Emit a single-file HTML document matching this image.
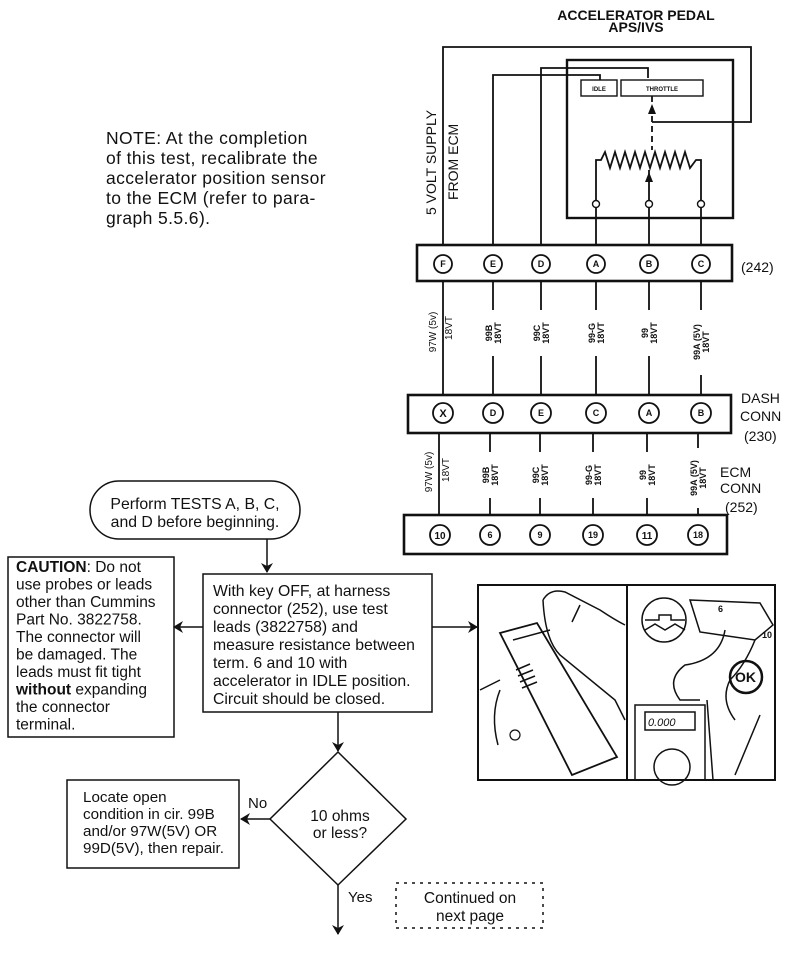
<!DOCTYPE html>
<html><head><meta charset="utf-8"><style>
html,body{margin:0;padding:0;background:#fff}
svg{display:block}
text{font-family:"Liberation Sans",sans-serif;fill:#111}
</style></head><body>
<svg width="800" height="954" viewBox="0 0 800 954" xmlns="http://www.w3.org/2000/svg">
<defs>
<marker id="ah" markerWidth="10" markerHeight="12" refX="9" refY="6" orient="auto" markerUnits="userSpaceOnUse">
<path d="M0,0 L10,6 L0,12 L3,6 Z" fill="#111"/></marker>
</defs>
<g stroke="#111" fill="none" stroke-width="1.8">
<rect x="567" y="60" width="166" height="158" stroke-width="2.4"/>
<polyline points="443,245 443,47 751,47 751,122 652,122"/>
<polyline points="541,245 541,68 648,68 648,78"/>
<polyline points="493,245 493,75 600,75 600,80"/>
<rect x="581" y="80" width="36" height="16" stroke-width="1.4"/>
<rect x="621" y="80" width="82" height="16" stroke-width="1.4"/>
<line x1="652" y1="96" x2="652" y2="150" stroke-dasharray="6,4"/>
<polyline points="596,200 596,160 601,160 605,152 610,168 615,152 620,168 625,152 630,168 635,152 640,168 645,152 650,168 655,152 660,168 665,152 670,168 675,152 680,168 685,152 690,168 696,160 701,160 701,200"/>
<line x1="649" y1="200" x2="649" y2="170"/>
<circle cx="596" cy="204" r="3.5" stroke-width="1.4"/>
<circle cx="649" cy="204" r="3.5" stroke-width="1.4"/>
<circle cx="701" cy="204" r="3.5" stroke-width="1.4"/>
<line x1="596" y1="207" x2="596" y2="245"/>
<line x1="649" y1="207" x2="649" y2="245"/>
<line x1="701" y1="207" x2="701" y2="245"/>
<rect x="417" y="245" width="315" height="36" stroke-width="2.6"/>
<rect x="408" y="395" width="323" height="38" stroke-width="2.6"/>
<rect x="404" y="515" width="323" height="39" stroke-width="2.6"/>
<line x1="443" y1="281" x2="443" y2="395"/>
<line x1="493" y1="281" x2="493" y2="310"/><line x1="493" y1="356" x2="493" y2="395"/>
<line x1="541" y1="281" x2="541" y2="310"/><line x1="541" y1="356" x2="541" y2="395"/>
<line x1="596" y1="281" x2="596" y2="310"/><line x1="596" y1="356" x2="596" y2="395"/>
<line x1="649" y1="281" x2="649" y2="310"/><line x1="649" y1="356" x2="649" y2="395"/>
<line x1="701" y1="281" x2="701" y2="310"/><line x1="701" y1="375" x2="701" y2="395"/>
<line x1="439" y1="433" x2="439" y2="515"/>
<line x1="490" y1="433" x2="490" y2="452"/><line x1="490" y1="498" x2="490" y2="515"/>
<line x1="540" y1="433" x2="540" y2="452"/><line x1="540" y1="498" x2="540" y2="515"/>
<line x1="593" y1="433" x2="593" y2="452"/><line x1="593" y1="498" x2="593" y2="515"/>
<line x1="647" y1="433" x2="647" y2="452"/><line x1="647" y1="498" x2="647" y2="515"/>
<line x1="698" y1="433" x2="698" y2="448"/><line x1="698" y1="508" x2="698" y2="515"/>
</g>
<g stroke="#111" fill="#fff" stroke-width="1.8">
<circle cx="443" cy="264" r="9"/><circle cx="493" cy="264" r="9"/><circle cx="541" cy="264" r="9"/><circle cx="596" cy="264" r="9"/><circle cx="649" cy="264" r="9"/><circle cx="701" cy="264" r="9"/>
<circle cx="443" cy="413" r="10"/><circle cx="493" cy="413" r="10"/><circle cx="541" cy="413" r="10"/><circle cx="596" cy="413" r="10"/><circle cx="649" cy="413" r="10"/><circle cx="701" cy="413" r="10"/>
<circle cx="440" cy="535" r="10"/><circle cx="490" cy="535" r="10"/><circle cx="540" cy="535" r="10"/><circle cx="593" cy="535" r="10"/><circle cx="647" cy="535" r="10"/><circle cx="698" cy="535" r="10"/>
</g>
<g font-size="9" font-weight="bold" text-anchor="middle">
<text x="443" y="267">F</text><text x="493" y="267">E</text><text x="541" y="267">D</text><text x="596" y="267">A</text><text x="649" y="267">B</text><text x="701" y="267">C</text>
<text x="443" y="417" font-size="11">X</text><text x="493" y="416">D</text><text x="541" y="416">E</text><text x="596" y="416">C</text><text x="649" y="416">A</text><text x="701" y="416">B</text>
<text x="440" y="539" font-size="10">10</text><text x="490" y="538">6</text><text x="540" y="538">9</text><text x="593" y="538">19</text><text x="647" y="539" font-size="10">11</text><text x="698" y="538">18</text>
</g>
<g font-size="9" font-weight="bold" text-anchor="middle">
<text transform="translate(436,332) rotate(-90)" font-weight="normal" font-size="10">97W (5v)</text>
<text transform="translate(452,328) rotate(-90)" font-weight="normal" font-size="10">18VT</text>
<text transform="translate(432,472) rotate(-90)" font-weight="normal" font-size="10">97W (5v)</text>
<text transform="translate(449,470) rotate(-90)" font-weight="normal" font-size="10">18VT</text>
<text transform="translate(492,333) rotate(-90)">99B</text><text transform="translate(501,333) rotate(-90)">18VT</text>
<text transform="translate(540,333) rotate(-90)">99C</text><text transform="translate(549,333) rotate(-90)">18VT</text>
<text transform="translate(595,333) rotate(-90)">99-G</text><text transform="translate(604,333) rotate(-90)">18VT</text>
<text transform="translate(648,333) rotate(-90)">99</text><text transform="translate(657,333) rotate(-90)">18VT</text>
<text transform="translate(700,342) rotate(-90)">99A (5V)</text><text transform="translate(709,342) rotate(-90)">18VT</text>
<text transform="translate(489,475) rotate(-90)">99B</text><text transform="translate(498,475) rotate(-90)">18VT</text>
<text transform="translate(539,475) rotate(-90)">99C</text><text transform="translate(548,475) rotate(-90)">18VT</text>
<text transform="translate(592,475) rotate(-90)">99-G</text><text transform="translate(601,475) rotate(-90)">18VT</text>
<text transform="translate(646,475) rotate(-90)">99</text><text transform="translate(655,475) rotate(-90)">18VT</text>
<text transform="translate(697,478) rotate(-90)">99A (5V)</text><text transform="translate(706,478) rotate(-90)">18VT</text>
</g>
<g font-size="6" font-weight="bold" text-anchor="middle"><text x="599" y="91">IDLE</text><text x="662" y="91">THROTTLE</text></g>
<path d="M652,104 l-4,10 h8 z M649,172 l-4,10 h8 z" fill="#111"/>
<g font-size="14" font-weight="bold" text-anchor="middle">
<text x="636" y="20">ACCELERATOR PEDAL</text>
<text x="636" y="32">APS/IVS</text>
</g>
<text transform="translate(436,215) rotate(-90)" font-size="14">5 VOLT SUPPLY</text>
<text transform="translate(458,200) rotate(-90)" font-size="14">FROM ECM</text>
<g font-size="14"><text x="741" y="272">(242)</text>
<text x="741" y="403">DASH</text><text x="740" y="421">CONN</text><text x="744" y="441">(230)</text>
<text x="720" y="477">ECM</text><text x="720" y="493">CONN</text><text x="725" y="512">(252)</text></g>
<g font-size="17.5" letter-spacing="0.4"><text x="106" y="144">NOTE: At the completion</text><text x="106" y="164">of this test, recalibrate the</text><text x="106" y="184">accelerator position sensor</text><text x="106" y="204">to the ECM (refer to para-</text><text x="106" y="224">graph 5.5.6).</text></g>
<g stroke="#111" fill="none" stroke-width="1.5">
<rect x="90" y="481" width="210" height="58" rx="29"/>
<line x1="267" y1="539" x2="267" y2="572" marker-end="url(#ah)"/>
<rect x="8" y="557" width="166" height="180"/>
<rect x="203" y="574" width="229" height="138"/>
<line x1="203" y1="627" x2="174" y2="627" marker-end="url(#ah)"/>
<line x1="432" y1="627" x2="477" y2="627" marker-end="url(#ah)"/>
<line x1="338" y1="712" x2="338" y2="751" marker-end="url(#ah)"/>
<polygon points="338,752 406,819 338,885 270,819"/>
<rect x="67" y="780" width="172" height="88"/>
<line x1="270" y1="819" x2="241" y2="819" marker-end="url(#ah)"/>
<line x1="338" y1="885" x2="338" y2="934" marker-end="url(#ah)"/>
<rect x="396" y="883" width="147" height="45" stroke-dasharray="3,5"/>
<rect x="478" y="585" width="297" height="195" stroke-width="2"/>
<line x1="627" y1="585" x2="627" y2="780" stroke-width="2"/>
<path d="M543,600 Q550,588 565,592 L600,610 Q615,620 625,625 M543,600 Q545,640 560,655 L615,700 L625,720"/>
<path d="M500,633 L537,623 L617,757 L572,775 Z" fill="#fff" stroke-width="1.8"/>
<path d="M513,640 L550,630 M580,605 L572,622"/>
<path d="M516,670 L530,664 M518,676 L533,670 M520,682 L535,676 M522,688 L537,682"/>
<path d="M480,690 L500,680 M498,745 Q490,715 500,690"/>
<circle cx="515" cy="735" r="5" stroke-width="1.2"/>
<circle cx="664" cy="620" r="22"/>
<path d="M645,620 h14 v-5 h12 v5 h14 M645,630 l10,-6 l10,6 l10,-6 l10,6"/>
<path d="M690,600 L760,603 L773,625 L755,640 L700,632 Z"/>
<path d="M725,630 Q720,660 685,665 Q665,680 680,700 L700,700 M755,640 Q745,665 730,680 Q720,700 735,720"/>
<rect x="635" y="705" width="70" height="75"/>
<rect x="645" y="712" width="50" height="18"/>
<circle cx="672" cy="767" r="18"/>
<circle cx="746" cy="677" r="16" stroke-width="2.5"/>
<path d="M707,700 L713,780 M760,715 L735,775"/>
</g>
<text x="735" y="682" font-size="14" font-weight="bold">OK</text>
<text x="648" y="726" font-size="11" font-style="italic">0.000</text>
<text x="762" y="638" font-size="9" font-weight="bold">10</text>
<text x="718" y="612" font-size="9" font-weight="bold">6</text>
<g font-size="15.8" text-anchor="middle"><text x="195" y="509">Perform TESTS A, B, C,</text><text x="195" y="527">and D before beginning.</text></g>
<g font-size="15.5"><text x="16" y="572"><tspan font-weight="bold">CAUTION</tspan>: Do not</text><text x="16" y="589.5">use probes or leads</text><text x="16" y="607">other than Cummins</text><text x="16" y="624.5">Part No. 3822758.</text><text x="16" y="642">The connector will</text><text x="16" y="659.5">be damaged. The</text><text x="16" y="677">leads must fit tight</text><text x="16" y="694.5"><tspan font-weight="bold">without</tspan> expanding</text><text x="16" y="712">the connector</text><text x="16" y="729.5">terminal.</text></g>
<g font-size="15.8"><text x="213" y="596">With key OFF,  at harness</text><text x="213" y="614">connector (252), use test</text><text x="213" y="632">leads (3822758) and</text><text x="213" y="650">measure resistance between</text><text x="213" y="668">term. 6 and 10 with</text><text x="213" y="686">accelerator in IDLE position.</text><text x="213" y="704">Circuit should be closed.</text></g>
<g font-size="15.2"><text x="83" y="802">Locate open</text><text x="83" y="819">condition in cir. 99B</text><text x="83" y="836">and/or 97W(5V) OR</text><text x="83" y="853">99D(5V), then repair.</text></g>
<g font-size="15.5" text-anchor="middle"><text x="340" y="821">10 ohms</text><text x="340" y="838">or less?</text>
<text x="470" y="903">Continued on</text><text x="470" y="921">next page</text></g>
<text x="248" y="808" font-size="15">No</text>
<text x="348" y="902" font-size="15">Yes</text>
</svg>
</body></html>
